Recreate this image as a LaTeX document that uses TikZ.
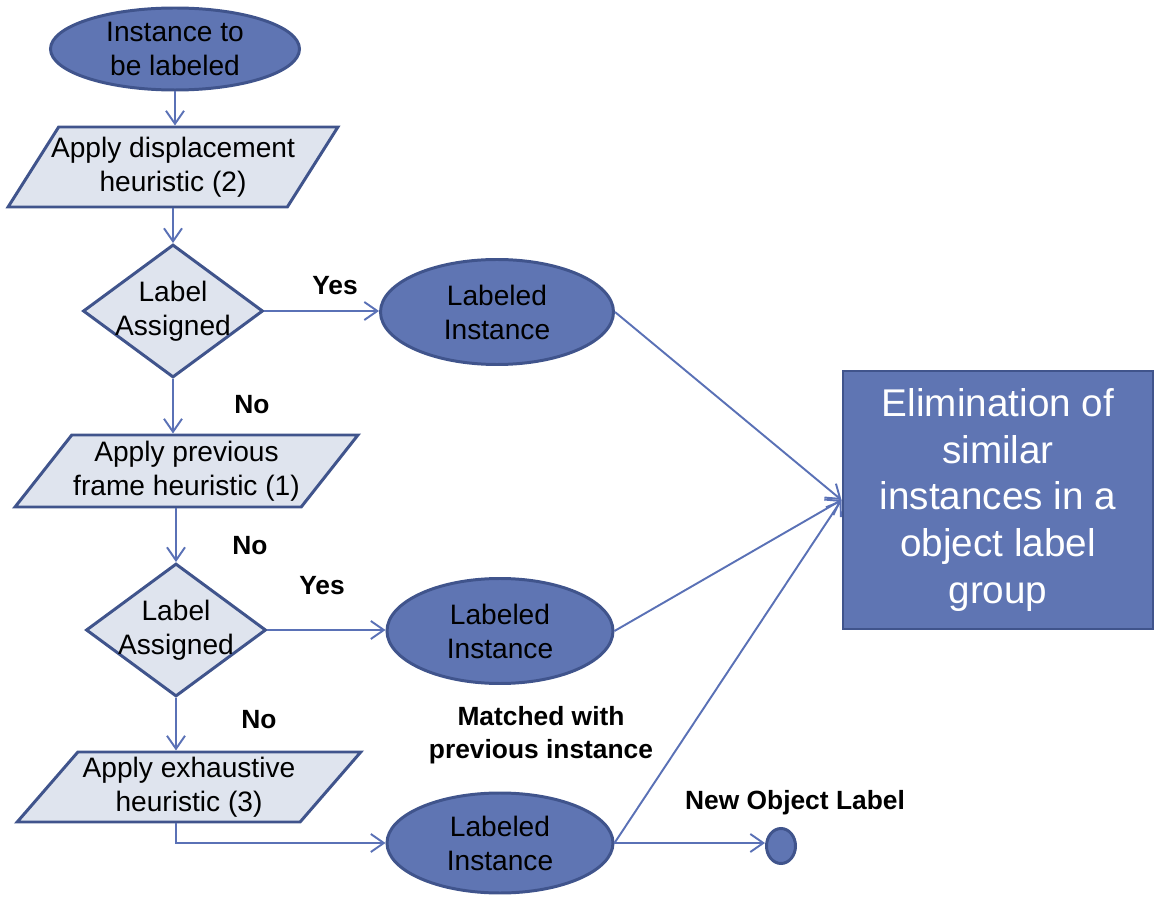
\documentclass[tikz,border=0pt]{standalone}
\usepackage{fontspec}
\setmainfont{Liberation Sans}
\usetikzlibrary{shapes.geometric,arrows.meta}
\definecolor{nodeblue}{RGB}{95,117,179}
\definecolor{edgeblue}{RGB}{64,84,140}
\definecolor{paleblue}{RGB}{223,228,238}
\definecolor{lineblue}{RGB}{90,113,182}

\begin{document}
\begin{tikzpicture}[>={Straight Barb[length=2.6mm,width=3.6mm]},
  every node/.style={font=\fontsize{16}{19.3}\selectfont,align=center},
  term/.style={ellipse,draw=edgeblue,fill=nodeblue,line width=1.7pt,inner sep=0pt},
  proc/.style={trapezium,trapezium left angle=50,trapezium right angle=130,
    trapezium stretches=true,draw=edgeblue,fill=paleblue,line width=1.7pt,
    inner sep=0pt,minimum width=6.6cm,minimum height=1.6cm},
  test/.style={diamond,aspect=1.35,draw=edgeblue,fill=paleblue,line width=1.7pt,
    inner sep=-2.2pt,minimum width=3.6cm,minimum height=2.66cm},
  answer/.style={font=\fontsize{15}{18.5}\selectfont\bfseries},
  flow/.style={draw=lineblue,line width=1.1pt}]
\newcommand{\bigsize}{\fontsize{22}{26.7}\selectfont}
\useasboundingbox (0,0) rectangle (23.08,-17.96);
% left column
\node[term,minimum width=4.98cm,minimum height=1.64cm] (Start) at (3.5,-0.98) {Instance to\\be labeled};
\node[proc,inner xsep=-4.5pt] (H_1) at (3.46,-3.34) {Apply displacement\\heuristic (2)};
\node[test] (D_1) at (3.46,-6.22) {Label\\Assigned};
\node[proc,minimum width=6.86cm,minimum height=1.44cm,trapezium left angle=47,trapezium right angle=133] (H_2) at (3.73,-9.42) {Apply previous\\frame heuristic (1)};
\node[test] (D_2) at (3.52,-12.6) {Label\\Assigned};
\node[proc,minimum width=6.88cm,minimum height=1.4cm,trapezium left angle=46,trapezium right angle=134] (H_3) at (3.78,-15.74) {Apply exhaustive\\heuristic (3)};
% middle column
\node[term,minimum width=4.66cm,minimum height=2.1cm] (L_1) at (9.94,-6.24) {Labeled\\Instance};
\node[term,minimum width=4.52cm,minimum height=2.1cm] (L_2) at (10.0,-12.62) {Labeled\\Instance};
\node[term,minimum width=4.52cm,minimum height=2.0cm] (L_3) at (10.0,-16.86) {Labeled\\Instance};
\node[term,minimum width=0.58cm,minimum height=0.7cm] (New) at (15.62,-16.92) {};
% right box
\node[draw=edgeblue,fill=nodeblue,line width=1.7pt,text=white,font=\bigsize,
  minimum width=6.2cm,minimum height=5.16cm] (Elim) at (19.96,-10.0)
  {Elimination of\\similar\\instances in a\\object label\\group};
% branch labels
\node[answer] (Yes_1) at (6.7,-5.72) {Yes};
\node[answer] (No_1) at (5.04,-8.1) {No};
\node[answer] (No_2) at (5.0,-10.92) {No};
\node[answer] (Yes_2) at (6.44,-11.72) {Yes};
\node[answer] (No_3) at (5.18,-14.4) {No};
\node[answer] (Match) at (10.82,-14.7) {Matched with\\previous instance};
\node[answer] (NewText) at (15.9,-16.06) {New Object Label};
% connectors
\draw [flow,->] (Start) -- (Start |- H_1.north);
\draw [flow,->] (D_1 |- H_1.south) -- (D_1.north);
\draw [flow,->] (D_1.south) -- (D_1 |- H_2.north);
\draw [flow,->] (D_2 |- H_2.south) -- (D_2.north);
\draw [flow,->] (D_2.south) -- (D_2 |- H_3.north);
\draw [flow,->] (D_2 |- H_3.south) |- (L_3.west);
\draw [flow,->] (D_1.east) -- (D_1.east -| L_1.west);
\draw [flow,->] (D_2.east) -- (D_2.east -| L_2.west);
\draw [flow,->] (L_3.east) -- (L_3.east -| New.west);
\draw [flow,->] (L_1.east) -- (Elim.west);
\draw [flow,->] (L_2.east) -- (Elim.west);
\draw [flow,->] (L_3.east) -- (Elim.west);
\end{tikzpicture}
\end{document}
